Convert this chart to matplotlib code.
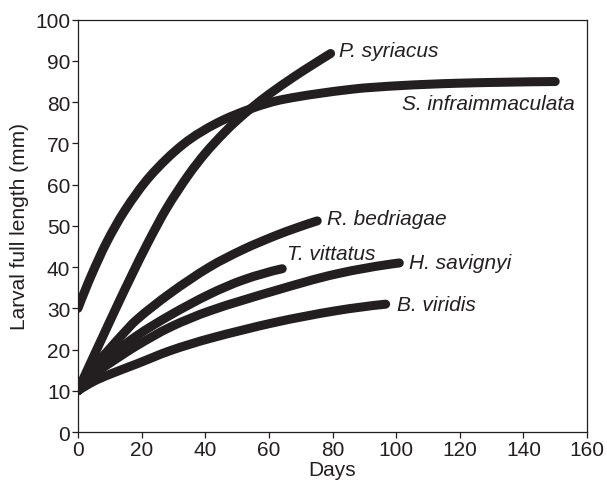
import matplotlib
matplotlib.use("Agg")
import matplotlib.pyplot as plt
from matplotlib.path import Path
from matplotlib.patches import PathPatch

plt.rcParams['font.family'] = ['Liberation Sans', 'DejaVu Sans']

INK = '#231f20'

# ---- data ----
p_syr_days = [0, 2.6, 7.4, 12.1, 16.8, 22.1, 27.9, 34.7, 40, 45.7, 50, 54.7, 60, 67.8, 73, 79.4]
p_syr_len = [10, 14.5, 22.5, 30.3, 37.9, 46.1, 54.3, 62.3, 67.6, 72.4, 75.6, 78.7, 81.9, 86.1, 88.7, 91.8]

s_inf_days = [0, 4.2, 9, 14.7, 22.6, 33.1, 43.6, 54.7, 64.7, 85.7, 101, 120, 150]
s_inf_len = [30, 38.0, 46.0, 53.7, 62.0, 69.8, 74.9, 78.5, 80.7, 83.1, 84.0, 84.6, 85.0]

r_bed_days = [0, 5, 9.5, 13.2, 18.4, 28.9, 41.3, 52, 62, 69, 75.2]
r_bed_len = [10, 15.8, 19.8, 23.0, 27.2, 33.6, 40.0, 44.3, 47.6, 49.6, 51.2]

t_vit_days = [0, 5, 10, 18.4, 28.9, 41.3, 52, 64.2]
t_vit_len = [10, 14.8, 18.3, 23.3, 28.3, 33.4, 36.9, 39.6]

h_sav_days = [0, 5, 10, 18.4, 28.9, 41.5, 62, 81, 101]
h_sav_len = [10, 14.0, 16.7, 20.9, 25.4, 29.4, 34.3, 38.3, 41.0]

b_vir_days = [0, 5, 10, 18.4, 28.9, 41.5, 62, 81, 96.7]
b_vir_len = [10, 12.3, 14.0, 16.5, 19.7, 22.7, 26.6, 29.4, 31.0]

species = ['P. syriacus', 'S. infraimmaculata', 'R. bedriagae',
           'T. vittatus', 'H. savignyi', 'B. viridis']
series_days = [p_syr_days, s_inf_days, r_bed_days, t_vit_days, h_sav_days, b_vir_days]
series_len = [p_syr_len, s_inf_len, r_bed_len, t_vit_len, h_sav_len, b_vir_len]

x_ticks = [0, 20, 40, 60, 80, 100, 120, 140, 160]
y_ticks = [0, 10, 20, 30, 40, 50, 60, 70, 80, 90, 100]

# label anchor positions (data coords) and alignment
label_pos = [(82, 92.5, 'left'), (156, 79.6, 'right'), (78.4, 51.7, 'left'),
             (65.7, 43.4, 'left'), (104, 41.2, 'left'), (100.2, 31.0, 'left')]


def smooth_path(xs, ys):
    """Bezier path passing through every data point (Catmull-Rom tangents)."""
    pts = list(zip(xs, ys))
    n = len(pts)
    verts = [pts[0]]
    codes = [Path.MOVETO]
    for i in range(n - 1):
        p0 = pts[i - 1] if i > 0 else pts[i]
        p1 = pts[i]
        p2 = pts[i + 1]
        p3 = pts[i + 2] if i + 2 < n else pts[i + 1]
        h = p2[0] - p1[0]
        m1 = (p2[1] - p0[1]) / (p2[0] - p0[0]) if p2[0] != p0[0] else 0
        m2 = (p3[1] - p1[1]) / (p3[0] - p1[0]) if p3[0] != p1[0] else 0
        if i == 0:
            m1 = 2 * (p2[1] - p1[1]) / h - m2
        if i + 2 >= n:
            m2 = 2 * (p2[1] - p1[1]) / h - m1
        c1 = (p1[0] + h / 3, p1[1] + m1 * h / 3)
        c2 = (p2[0] - h / 3, p2[1] - m2 * h / 3)
        verts += [c1, c2, p2]
        codes += [Path.CURVE4, Path.CURVE4, Path.CURVE4]
    return Path(verts, codes)


fig = plt.figure(figsize=(6.07, 4.89), dpi=100)
ax = fig.add_axes([0.1285, 0.1145, 0.8386, 0.8432])

for d, v in zip(series_days, series_len):
    patch = PathPatch(smooth_path(d, v), facecolor='none', edgecolor=INK,
                      lw=6.5, capstyle='round', joinstyle='round')
    ax.add_patch(patch)

for name, (x, y, ha) in zip(species, label_pos):
    ax.text(x, y, name, style='italic', fontsize=15, color=INK, ha=ha, va='center')

ax.set_xlim(0, 160)
ax.set_ylim(0, 100)
ax.set_xticks(x_ticks)
ax.set_yticks(y_ticks)
ax.tick_params(direction='out', length=4, width=0.9, labelsize=15,
               colors=INK, pad=1.5)
for sp in ax.spines.values():
    sp.set_linewidth(0.9)
    sp.set_color(INK)

ax.set_xlabel('Days', fontsize=15, color=INK)
ax.set_ylabel('Larval full length (mm)', fontsize=15, color=INK)
ax.xaxis.set_label_coords(0.5, -0.09)
ax.yaxis.set_label_coords(-0.115, 0.5)
ax.xaxis.label.set_va('center')
ax.yaxis.label.set_va('center')

fig.savefig('out.png', dpi=100)
